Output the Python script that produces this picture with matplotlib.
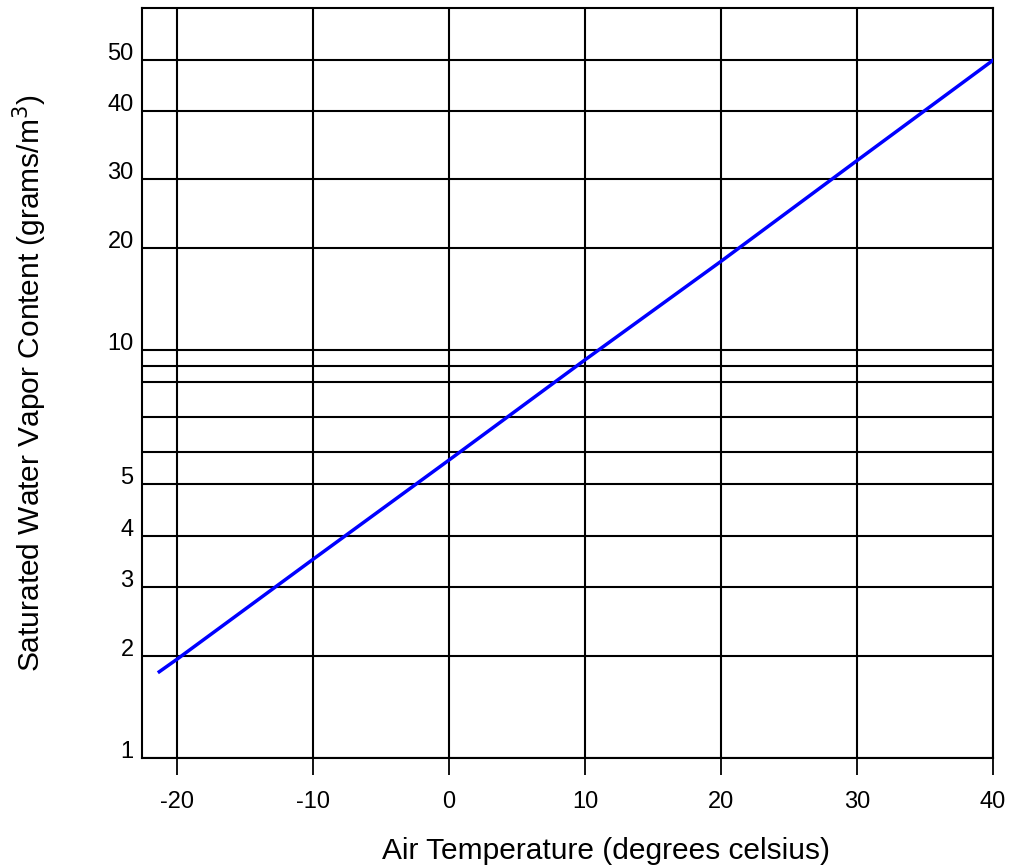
import numpy as np
import matplotlib
matplotlib.use("Agg")
import matplotlib.pyplot as plt
from matplotlib.scale import FuncScale

plt.rcParams['font.family'] = ['Liberation Sans', 'DejaVu Sans']
plt.rcParams['axes.unicode_minus'] = False

# values
temperature = [-21.3, -20, -10, 0, 10, 20, 30, 40]
vapor_content = [1.8, 1.96, 3.5, 5.74, 9.37, 18.3, 32.4, 50]

x_ticks = [-20, -10, 0, 10, 20, 30, 40]
x_tick_labels = ['-20', '-10', '0', '10', '20', '30', '40']
y_ticks = [1, 2, 3, 4, 5, 10, 20, 30, 40, 50]
y_tick_labels = ['1', '2', '3', '4', '5', '10', '20', '30', '40', '50']
y_minor = [6, 7, 8, 9]

# the printed log paper is not quite logarithmic: gauge of the y axis
gauge_vals = np.log10([1, 2, 3, 4, 5, 6, 7, 8, 9, 10, 20, 30, 40, 50, 63])
gauge_frac = [0, 0.1356, 0.2284, 0.2964, 0.3649, 0.4076, 0.4543, 0.5009,
              0.5227, 0.544, 0.6796, 0.7724, 0.8627, 0.9303, 1.0]


def forward(y):
    y = np.clip(np.asarray(y, dtype=float), 1e-9, None)
    return np.interp(np.log10(y), gauge_vals, gauge_frac)


def inverse(t):
    return 10 ** np.interp(np.asarray(t, dtype=float), gauge_frac, gauge_vals)


fig = plt.figure(figsize=(10.13, 8.68), dpi=100)
ax = fig.add_axes([142 / 1013, 1 - 758 / 868, 851 / 1013, 750 / 868])
ax.set_yscale(FuncScale(ax.yaxis, (forward, inverse)))
ax.set_xlim(-22.57, 40)
ax.set_ylim(1, 63)

ax.plot(temperature, vapor_content, color='#0000ff', lw=2.5, zorder=3)

ax.set_xticks(x_ticks)
ax.set_xticklabels(x_tick_labels)
ax.set_yticks(y_ticks)
ax.set_yticklabels(y_tick_labels)
ax.set_yticks(y_minor, minor=True)
ax.grid(which='both', color='black', lw=1.5)

ax.tick_params(axis='x', direction='out', length=12.5, width=1.3, pad=11,
               labelsize=17, color='black')
ax.tick_params(axis='y', which='both', length=0, pad=6, labelsize=17)
for lbl in ax.get_yticklabels():
    lbl.set_va('baseline')
for sp in ax.spines.values():
    sp.set_linewidth(1.5)

ax.set_xlabel('Air Temperature (degrees celsius)', fontsize=21.5)
ax.xaxis.label.set_va('center')
ax.xaxis.set_label_coords(0.5452, -0.124)
ax.set_ylabel('Saturated Water Vapor Content (grams/m$^3$)', fontsize=21.5)
ax.yaxis.label.set_va('center')
ax.yaxis.set_label_coords(-0.1316, 0.5)

fig.savefig('out.png', dpi=100)
